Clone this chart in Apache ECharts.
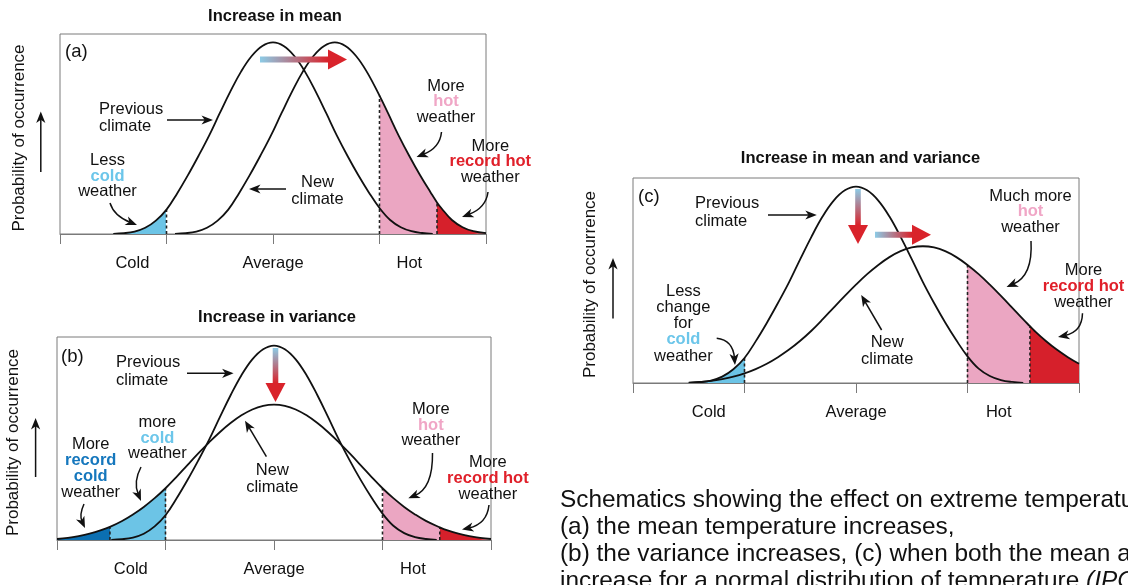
<!DOCTYPE html>
<html><head><meta charset="utf-8">
<script src="https://cdn.jsdelivr.net/npm/echarts@6/dist/echarts.min.js"></script>
<style>html,body{margin:0;padding:0;background:#fff}#c{width:1128px;height:585px}</style>
</head><body><div id="c"></div>
<script>
// ---------- data (x: 0..100 across each box, y: 0..100 up each box) ----------
const TICK_LABELS = ['Cold', 'Average', 'Hot'];
const LABEL_AT = [17, 50, 82];
const TICKS_AT = [0, 25, 50, 75, 100];

const PREVIOUS = [[12.5,0.1],[15,0.4],[17.5,1.2],[20,3.1],[22.5,6.7],[25,12.2],[27.5,20.3],[30,29.3],[32.5,39.0],[35,49.2],[37.5,60.4],[40,71.3],[42.5,81.2],[45,89.0],[47.5,94.0],[50,95.8],[52.5,94.0],[55,89.0],[57.5,81.2],[60,71.3],[62.5,60.4],[65,49.2],[67.5,39.0],[70,29.5],[72.5,20.8],[75,13.0],[77.5,7.0],[80,3.4],[82.5,1.4],[85,0.5],[87.5,0.1]];
const A_NEW = [[27,0.1],[29.5,0.4],[32,1.2],[34.5,3.1],[37,6.7],[39.5,12.2],[42,20.3],[44.5,29.3],[47,39.0],[49.5,49.2],[52,60.4],[54.5,71.3],[57,81.2],[59.5,89.0],[62,94.0],[64.5,95.8],[67,94.0],[69.5,89.0],[72,81.2],[75,69.2],[77,60.4],[79.5,49.2],[82,39.0],[84.5,29.5],[87,20.8],[88.5,15.8],[89.5,13.0],[92,7.0],[94.5,3.4],[97,1.4],[100,0.4]];
const B_NEW = [[0,0.5],[2.5,1.0],[5,1.9],[7.5,3.1],[10,4.7],[12.2,6.5],[15,9.4],[17.5,12.6],[20,16.3],[22.5,20.6],[25,25.5],[27.5,31.0],[30,36.8],[32.5,42.5],[35,48.0],[37.5,53.1],[40,57.6],[42.5,61.4],[45,64.3],[47.5,66.1],[50,66.7],[52.5,66.1],[55,64.3],[57.5,61.4],[60,57.6],[62.5,53.1],[65,48.0],[67.5,42.5],[70,36.8],[72.5,31.0],[75,25.5],[77.5,20.6],[80,16.3],[82.5,12.6],[85,9.4],[88.2,6.2],[90,4.7],[92.5,3.1],[95,1.9],[97.5,1.0],[100,0.5]];
const C_NEW = [[12.5,0.2],[15,0.5],[17.5,1.0],[20,1.9],[22.5,3.1],[25,4.7],[27.5,6.8],[30,9.4],[32.5,12.6],[35,16.3],[37.5,20.6],[40,25.5],[42.5,31.0],[45,36.8],[47.5,42.5],[50,48.0],[52.5,53.1],[55,57.6],[57.5,61.4],[60,64.3],[62.5,66.1],[65,66.7],[67.5,66.1],[70,64.3],[72.5,61.4],[75,57.6],[77.5,53.1],[80,48.0],[82.5,42.5],[85,36.8],[87.5,31.0],[89,27.7],[90,25.5],[92.5,20.6],[95,16.3],[97.5,12.6],[100,9.4]];

const A_THRESHOLDS = [25, 75, 88.5];
const B_THRESHOLDS = [12.2, 25, 75, 88.2];
const C_THRESHOLDS = [25, 75, 89];

// ---------- styles ----------
const FONT = '"Liberation Sans", Arial, Helvetica, sans-serif';
const INK = '#111';
const BOX = '#7a7a7a';
const F_BLUE = '#6cc4e6', F_DBLUE = '#0b6fb1', F_PINK = '#eba6c2', F_RED = '#d6202b';
const T_COLD = '#6cc6ea', T_RCOLD = '#1577bd', T_HOT = '#f0a6c6', T_RHOT = '#e0202a';
const CLEAR = 'rgba(255,255,255,0)';

const GRIDS = [
  {left: 60, top: 34, width: 426, height: 200, nameGap: 32},
  {left: 57, top: 337, width: 434, height: 203, nameGap: 35},
  {left: 633, top: 178, width: 446, height: 205, nameGap: 34}
];

function yAt(arr, x) { const p = arr.find(d => d[0] === x); return p ? p[1] : 0; }

const series = [];
const visualMaps = [];
function addFill(gi, data, pieces) {
  series.push({type: 'line', xAxisIndex: gi, yAxisIndex: gi, data, smooth: 0.4, showSymbol: false,
    silent: true, z: 1, lineStyle: {width: 0, opacity: 0}, areaStyle: {opacity: 1}});
  visualMaps.push({type: 'piecewise', show: false, dimension: 0, seriesIndex: series.length - 1,
    pieces, outOfRange: {color: CLEAR}});
}
function addCurve(gi, data, dashes) {
  dashes.forEach(x => {
    series.push({type: 'line', xAxisIndex: gi, yAxisIndex: gi, data: [[x, 0], [x, yAt(data, x)]],
      showSymbol: false, silent: true, z: 2, lineStyle: {color: '#222', width: 1.6, type: [3, 2.5]}});
  });
  series.push({type: 'line', xAxisIndex: gi, yAxisIndex: gi, data, smooth: 0.4, showSymbol: false,
    silent: true, z: 3, lineStyle: {color: INK, width: 1.8}});
}

// panel (a)
addFill(0, PREVIOUS, [{gte: 0, lt: A_THRESHOLDS[0], color: F_BLUE}]);
addFill(0, A_NEW, [{gte: A_THRESHOLDS[1], lt: A_THRESHOLDS[2], color: F_PINK}, {gte: A_THRESHOLDS[2], lte: 100, color: F_RED}]);
addCurve(0, PREVIOUS, [A_THRESHOLDS[0]]);
addCurve(0, A_NEW, [A_THRESHOLDS[1], A_THRESHOLDS[2]]);
// panel (b)
addFill(1, B_NEW, [{gte: 0, lt: B_THRESHOLDS[0], color: F_DBLUE}, {gte: B_THRESHOLDS[0], lt: B_THRESHOLDS[1], color: F_BLUE},
  {gte: B_THRESHOLDS[2], lt: B_THRESHOLDS[3], color: F_PINK}, {gte: B_THRESHOLDS[3], lte: 100, color: F_RED}]);
addCurve(1, PREVIOUS, []);
addCurve(1, B_NEW, B_THRESHOLDS);
// panel (c)
addFill(2, PREVIOUS, [{gte: 0, lt: C_THRESHOLDS[0], color: F_BLUE}]);
addFill(2, C_NEW, [{gte: C_THRESHOLDS[1], lt: C_THRESHOLDS[2], color: F_PINK}, {gte: C_THRESHOLDS[2], lte: 100, color: F_RED}]);
addCurve(2, PREVIOUS, [C_THRESHOLDS[0]]);
addCurve(2, C_NEW, [C_THRESHOLDS[1], C_THRESHOLDS[2]]);

// ---------- annotation helpers ----------
function richSet(size, lh) {
  const mk = c => ({fill: c, fontWeight: 'bold', fontSize: size, fontFamily: FONT, lineHeight: lh});
  return {c: mk(T_COLD), k: mk(T_RCOLD), h: mk(T_HOT), r: mk(T_RHOT),
    i: {fill: INK, fontStyle: 'italic', fontSize: size, fontFamily: FONT, lineHeight: lh}};
}
function label(x, y, text, align, lh, size, weight) {
  size = size || 16.5;
  return {type: 'text', x, y, z: 10, silent: true, style: {text, fill: INK, fontSize: size, fontFamily: FONT,
    fontWeight: weight || 'normal', align, textAlign: align, verticalAlign: 'middle', textVerticalAlign: 'middle',
    lineHeight: lh || size, rich: richSet(size, lh || size)}};
}
function head(tx, ty, ux, uy, L, W) {
  L = L || 11.5; W = W || 4.6;
  const nx = -uy, ny = ux;
  return {type: 'polygon', z: 10, silent: true, shape: {points: [[tx, ty],
    [tx - L * ux + W * nx, ty - L * uy + W * ny], [tx - 0.72 * L * ux, ty - 0.72 * L * uy],
    [tx - L * ux - W * nx, ty - L * uy - W * ny]]}, style: {fill: INK}};
}
function arrow(x1, y1, x2, y2) {
  const dx = x2 - x1, dy = y2 - y1, len = Math.hypot(dx, dy), ux = dx / len, uy = dy / len;
  return [{type: 'line', z: 10, silent: true, shape: {x1, y1, x2: x2 - 7 * ux, y2: y2 - 7 * uy},
    style: {stroke: INK, lineWidth: 1.5}}, head(x2, y2, ux, uy)];
}
function curved(sx, sy, cx, cy, tx, ty) {
  const dx = tx - cx, dy = ty - cy, len = Math.hypot(dx, dy), ux = dx / len, uy = dy / len;
  return [{type: 'bezierCurve', z: 10, silent: true,
    shape: {x1: sx, y1: sy, cpx1: cx, cpy1: cy, x2: tx - 7 * ux, y2: ty - 7 * uy},
    style: {stroke: INK, lineWidth: 1.5, fill: null}}, head(tx, ty, ux, uy)];
}
const GRAD_A = '#8ccbe6', GRAD_B = '#d9232b';
function gradRight(x1, x2, yc) {
  return [{type: 'rect', z: 9, silent: true, shape: {x: x1, y: yc - 3, width: x2 - x1, height: 6},
    style: {fill: new echarts.graphic.LinearGradient(0, 0, 1, 0, [{offset: 0, color: GRAD_A}, {offset: 1, color: GRAD_B}])}},
    {type: 'polygon', z: 9, silent: true, shape: {points: [[x2, yc - 10], [x2 + 19, yc], [x2, yc + 10]]}, style: {fill: GRAD_B}}];
}
function gradDown(xc, y1, y2) {
  return [{type: 'rect', z: 9, silent: true, shape: {x: xc - 2.8, y: y1, width: 5.6, height: y2 - y1},
    style: {fill: new echarts.graphic.LinearGradient(0, 0, 0, 1, [{offset: 0, color: GRAD_A}, {offset: 1, color: GRAD_B}])}},
    {type: 'polygon', z: 9, silent: true, shape: {points: [[xc - 10, y2], [xc + 10, y2], [xc, y2 + 19]]}, style: {fill: GRAD_B}}];
}

const g = [];
// titles
g.push(label(275, 16, 'Increase in mean', 'center', 17, 16.5, 'bold'));
g.push(label(277, 317.5, 'Increase in variance', 'center', 17, 16.5, 'bold'));
g.push(label(860.5, 158.5, 'Increase in mean and variance', 'center', 17, 16.5, 'bold'));
// up arrows beside the axis names
g.push(...arrow(40.8, 172, 40.8, 111.5));
g.push(...arrow(35.6, 477, 35.6, 418));
g.push(...arrow(613, 318.5, 613, 258));

// panel (a)
g.push(label(65, 52, '(a)', 'left', 18, 18.5));
g.push(label(99, 118, 'Previous\nclimate', 'left', 17.4));
g.push(...arrow(167, 120, 213, 120));
g.push(label(107.5, 176.3, 'Less\n{c|cold}\nweather', 'center', 15.4));
g.push(...curved(110, 203, 114, 216, 137, 225));
g.push(label(317.5, 191.3, 'New\nclimate', 'center', 17.3));
g.push(...arrow(286, 189, 249, 189));
g.push(label(446, 101.7, 'More\n{h|hot}\nweather', 'center', 15.4));
g.push(...curved(441.5, 132, 440, 148, 416.5, 157));
g.push(label(490.3, 161.7, 'More\n{r|record hot}\nweather', 'center', 15.7));
g.push(...curved(488, 192, 486, 208, 462, 217));
g.push(...gradRight(260, 328, 59.5));

// panel (b)
g.push(label(61, 356.7, '(b)', 'left', 18, 18.5));
g.push(label(116, 371.7, 'Previous\nclimate', 'left', 18));
g.push(...arrow(187, 373.3, 233.6, 373.3));
g.push(...gradDown(275.5, 348, 383));
g.push(label(157.4, 438.3, 'more\n{c|cold}\nweather', 'center', 15.6));
g.push(...curved(141, 467, 133, 482, 141, 501));
g.push(label(90.7, 468.8, 'More\n{k|record}\n{k|cold}\nweather', 'center', 15.9));
g.push(...curved(84, 504, 79, 515, 85, 528));
g.push(label(272.3, 478.7, 'New\nclimate', 'center', 17.3));
g.push(...arrow(266.4, 456.7, 245, 420.7));
g.push(label(430.8, 425, 'More\n{h|hot}\nweather', 'center', 15.7));
g.push(...curved(432.5, 453, 433, 488, 408.3, 498.3));
g.push(label(487.9, 478.2, 'More\n{r|record hot}\nweather', 'center', 15.9));
g.push(...curved(489, 505, 487, 524, 462, 529.5));

// panel (c)
g.push(label(638, 196.7, '(c)', 'left', 18, 18.5));
g.push(label(695, 212.8, 'Previous\nclimate', 'left', 17.7));
g.push(...arrow(768, 215, 816.8, 215));
g.push(...gradDown(858, 189, 225));
g.push(...gradRight(875, 912, 234.8));
g.push(label(683.4, 323.8, 'Less\nchange\nfor\n{c|cold}\nweather', 'center', 16.1));
g.push(...curved(716.7, 338.3, 733, 340, 735, 365));
g.push(label(887.2, 351.3, 'New\nclimate', 'center', 17.3));
g.push(...arrow(881.6, 330, 861.2, 295));
g.push(label(1030.5, 211.8, 'Much more\n{h|hot}\nweather', 'center', 15.8));
g.push(...curved(1031, 241, 1033, 276, 1006.5, 287));
g.push(label(1083.5, 286.2, 'More\n{r|record hot}\nweather', 'center', 16.2));
g.push(...curved(1082.5, 313.3, 1082, 332, 1058, 337));

// caption
g.push(label(560, 541, 'Schematics showing the effect on extreme temperatures when\n(a) the mean temperature increases,\n(b) the variance increases, (c) when both the mean and variance\nincrease for a normal distribution of temperature {i|(IPCC 2007)}', 'left', 27, 24.4));

// ---------- axes ----------
const grid = GRIDS.map(p => ({left: p.left, top: p.top, width: p.width, height: p.height,
  show: true, borderColor: BOX, borderWidth: 1, backgroundColor: 'transparent'}));
const xAxis = GRIDS.map((p, i) => ({type: 'value', gridIndex: i, min: 0, max: 100, z: 5,
  axisLine: {show: true, lineStyle: {color: BOX, width: 1}},
  axisTick: {show: true, customValues: TICKS_AT, length: 10, lineStyle: {color: BOX, width: 1}},
  axisLabel: {show: true, customValues: LABEL_AT, formatter: v => TICK_LABELS[LABEL_AT.indexOf(v)] || '',
    margin: 21, fontSize: 16.5, fontFamily: FONT, color: INK},
  splitLine: {show: false}}));
const yAxis = GRIDS.map((p, i) => ({type: 'value', gridIndex: i, min: 0, max: 100,
  name: 'Probability of occurrence', nameLocation: 'middle', nameRotate: 90, nameGap: p.nameGap,
  nameTextStyle: {fontSize: 17, fontFamily: FONT, color: INK, padding: [0, 8, 0, 0]},
  axisLine: {show: false}, axisTick: {show: false}, axisLabel: {show: false}, splitLine: {show: false}}));

const chart = echarts.init(document.getElementById('c'), null, {renderer: 'canvas'});
chart.setOption({animation: false, backgroundColor: '#fff', grid, xAxis, yAxis, visualMap: visualMaps, series, graphic: g});
</script></body></html>
